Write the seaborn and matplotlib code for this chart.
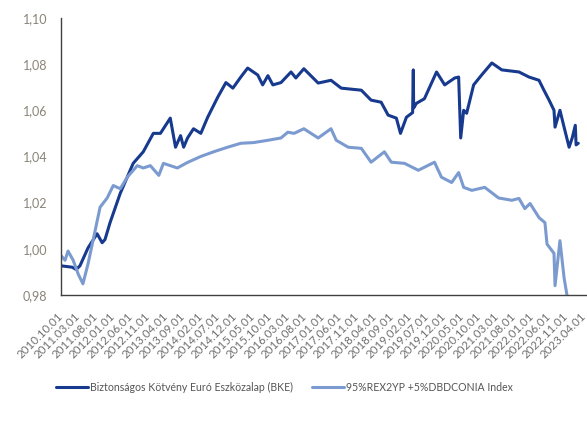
import pandas as pd
import matplotlib
matplotlib.use('Agg')
import matplotlib.pyplot as plt
import seaborn as sns

# fund (dark) series
bke_dates = ['2010-10-01', '2011-01-06', '2011-02-10', '2011-03-15', '2011-05-25', '2011-08-12',
             '2011-09-25', '2011-10-20', '2011-12-03', '2012-03-01', '2012-06-22', '2012-09-18',
             '2012-12-15', '2013-02-15', '2013-05-12', '2013-06-27', '2013-08-10', '2013-09-06',
             '2013-10-10', '2013-12-01', '2014-02-03', '2014-04-04', '2014-07-01', '2014-09-10',
             '2014-11-10', '2015-01-18', '2015-03-19', '2015-06-15', '2015-07-28', '2015-09-12',
             '2015-10-25', '2016-01-04', '2016-04-01', '2016-05-13', '2016-07-22', '2016-11-24',
             '2017-03-16', '2017-06-13', '2017-12-06', '2018-03-01', '2018-05-28', '2018-07-28',
             '2018-10-08', '2018-11-13', '2019-01-04', '2019-02-27', '2019-03-05', '2019-03-08',
             '2019-04-01', '2019-06-10', '2019-09-24', '2019-12-04', '2020-03-01', '2020-04-04',
             '2020-04-22', '2020-05-18', '2020-06-13', '2020-08-13', '2020-10-22', '2021-01-19',
             '2021-04-16', '2021-09-13', '2021-12-10', '2022-03-07', '2022-04-19', '2022-06-03',
             '2022-07-16', '2022-07-25', '2022-09-06', '2022-10-12', '2022-11-25', '2022-12-22',
             '2023-01-18', '2023-01-25', '2023-02-13']
bke_values = [0.9926, 0.9920, 0.9910, 0.9926, 1.0004, 1.0065,
              1.0026, 1.0040, 1.0113, 1.0240, 1.0370, 1.0420,
              1.0500, 1.0500, 1.0566, 1.0440, 1.0490, 1.0440,
              1.0480, 1.0520, 1.0500, 1.0570, 1.0657, 1.0720,
              1.0696, 1.0744, 1.0783, 1.0753, 1.0710, 1.0750,
              1.0710, 1.0720, 1.0766, 1.0740, 1.0780, 1.0718,
              1.0730, 1.0696, 1.0687, 1.0644, 1.0635, 1.0579,
              1.0566, 1.0500, 1.0570, 1.0590, 1.0775, 1.0610,
              1.0630, 1.0650, 1.0766, 1.0710, 1.0740, 1.0744,
              1.0480, 1.0600, 1.0587, 1.0710, 1.0753, 1.0805,
              1.0775, 1.0766, 1.0744, 1.0730, 1.0687, 1.0644,
              1.0600, 1.0527, 1.0600, 1.0527, 1.0440, 1.0480,
              1.0535, 1.0450, 1.0457]

# benchmark index (light) series
idx_dates = ['2010-10-01', '2010-11-05', '2010-12-01', '2011-01-15', '2011-02-28', '2011-04-10',
             '2011-05-25', '2011-07-07', '2011-09-07', '2011-11-08', '2011-12-31', '2012-03-01',
             '2012-05-01', '2012-07-28', '2012-09-18', '2012-11-19', '2013-02-01', '2013-03-13',
             '2013-07-13', '2013-10-10', '2014-02-03', '2014-05-25', '2014-09-25', '2015-01-18',
             '2015-05-10', '2015-09-12', '2016-01-04', '2016-03-04', '2016-04-28', '2016-07-22',
             '2016-11-24', '2017-03-16', '2017-05-01', '2017-08-13', '2017-12-06', '2018-03-01',
             '2018-06-25', '2018-08-25', '2018-12-18', '2019-04-18', '2019-09-06', '2019-11-06',
             '2020-02-03', '2020-04-04', '2020-05-18', '2020-07-28', '2020-11-18', '2021-03-19',
             '2021-07-13', '2021-09-13', '2021-11-03', '2021-12-19', '2022-03-07', '2022-04-28',
             '2022-05-16', '2022-07-16', '2022-07-25', '2022-09-06', '2022-10-12', '2022-11-06',
             '2022-11-20']
idx_values = [0.9970, 0.9950, 0.9990, 0.9950, 0.9890, 0.9848,
              0.9935, 1.0035, 1.0180, 1.0220, 1.0274, 1.0260,
              1.0310, 1.0360, 1.0350, 1.0360, 1.0318, 1.0370,
              1.0350, 1.0374, 1.0400, 1.0420, 1.0440, 1.0457,
              1.0460, 1.0470, 1.0480, 1.0505, 1.0500, 1.0520,
              1.0480, 1.0520, 1.0470, 1.0440, 1.0435, 1.0375,
              1.0420, 1.0375, 1.0370, 1.0340, 1.0375, 1.0310,
              1.0287, 1.0330, 1.0266, 1.0253, 1.0266, 1.0220,
              1.0210, 1.0218, 1.0174, 1.0196, 1.0135, 1.0113,
              1.0020, 0.9980, 0.9840, 1.0035, 0.9874, 0.9800,
              0.9760]

labels = ['Biztonságos Kötvény Euró Eszközalap (BKE)', '95%REX2YP +5%DBDCONIA Index']
colors = ['#173a8e', '#7b9bd0']

df = pd.concat([
    pd.DataFrame({'date': pd.to_datetime(bke_dates), 'value': bke_values, 'series': labels[0]}),
    pd.DataFrame({'date': pd.to_datetime(idx_dates), 'value': idx_values, 'series': labels[1]}),
])

sns.set_style('white')
plt.rcParams['font.family'] = ['Lato', 'DejaVu Sans']

fig = plt.figure(figsize=(5.87, 4.28), dpi=100)
ax = fig.add_axes([0.104, 0.311, 0.894, 0.647])

sns.lineplot(data=df, x='date', y='value', hue='series', palette=colors,
             linewidth=2.2, ax=ax, legend=False, estimator=None)

ticks = pd.date_range('2010-10-01', '2023-04-01', freq='5MS')
ax.set_xticks(ticks)
ax.set_xticklabels([t.strftime('%Y.%m.%d') for t in ticks], rotation=45,
                   ha='right', va='center', rotation_mode='anchor')
ax.set_xlim(pd.Timestamp('2010-10-01'), pd.Timestamp('2023-04-20'))
ax.set_ylim(0.98, 1.10)
ax.set_yticks([0.98, 1.00, 1.02, 1.04, 1.06, 1.08, 1.10])
ax.set_yticklabels(['0,98', '1,00', '1,02', '1,04', '1,06', '1,08', '1,10'])
ax.tick_params(axis='y', length=0, pad=10, labelsize=9, labelcolor='#8a8478')
ax.tick_params(axis='x', length=0, pad=14, labelsize=8.3, labelcolor='#707070')
ax.set_xlabel('')
ax.set_ylabel('')

sns.despine(ax=ax, top=True, right=True)
for side in ['left', 'bottom']:
    ax.spines[side].set_color('#404040')
    ax.spines[side].set_linewidth(1.0)

handles = [plt.Line2D([], [], color=c, lw=2.2) for c in colors]
fig.legend(handles, labels, loc='center', bbox_to_anchor=(0.485, 0.095), ncol=2,
           frameon=False, fontsize=7.6, labelcolor='#555555', handlelength=3.0,
           columnspacing=1.8, handletextpad=0.2)

fig.savefig('out.png', dpi=100)
